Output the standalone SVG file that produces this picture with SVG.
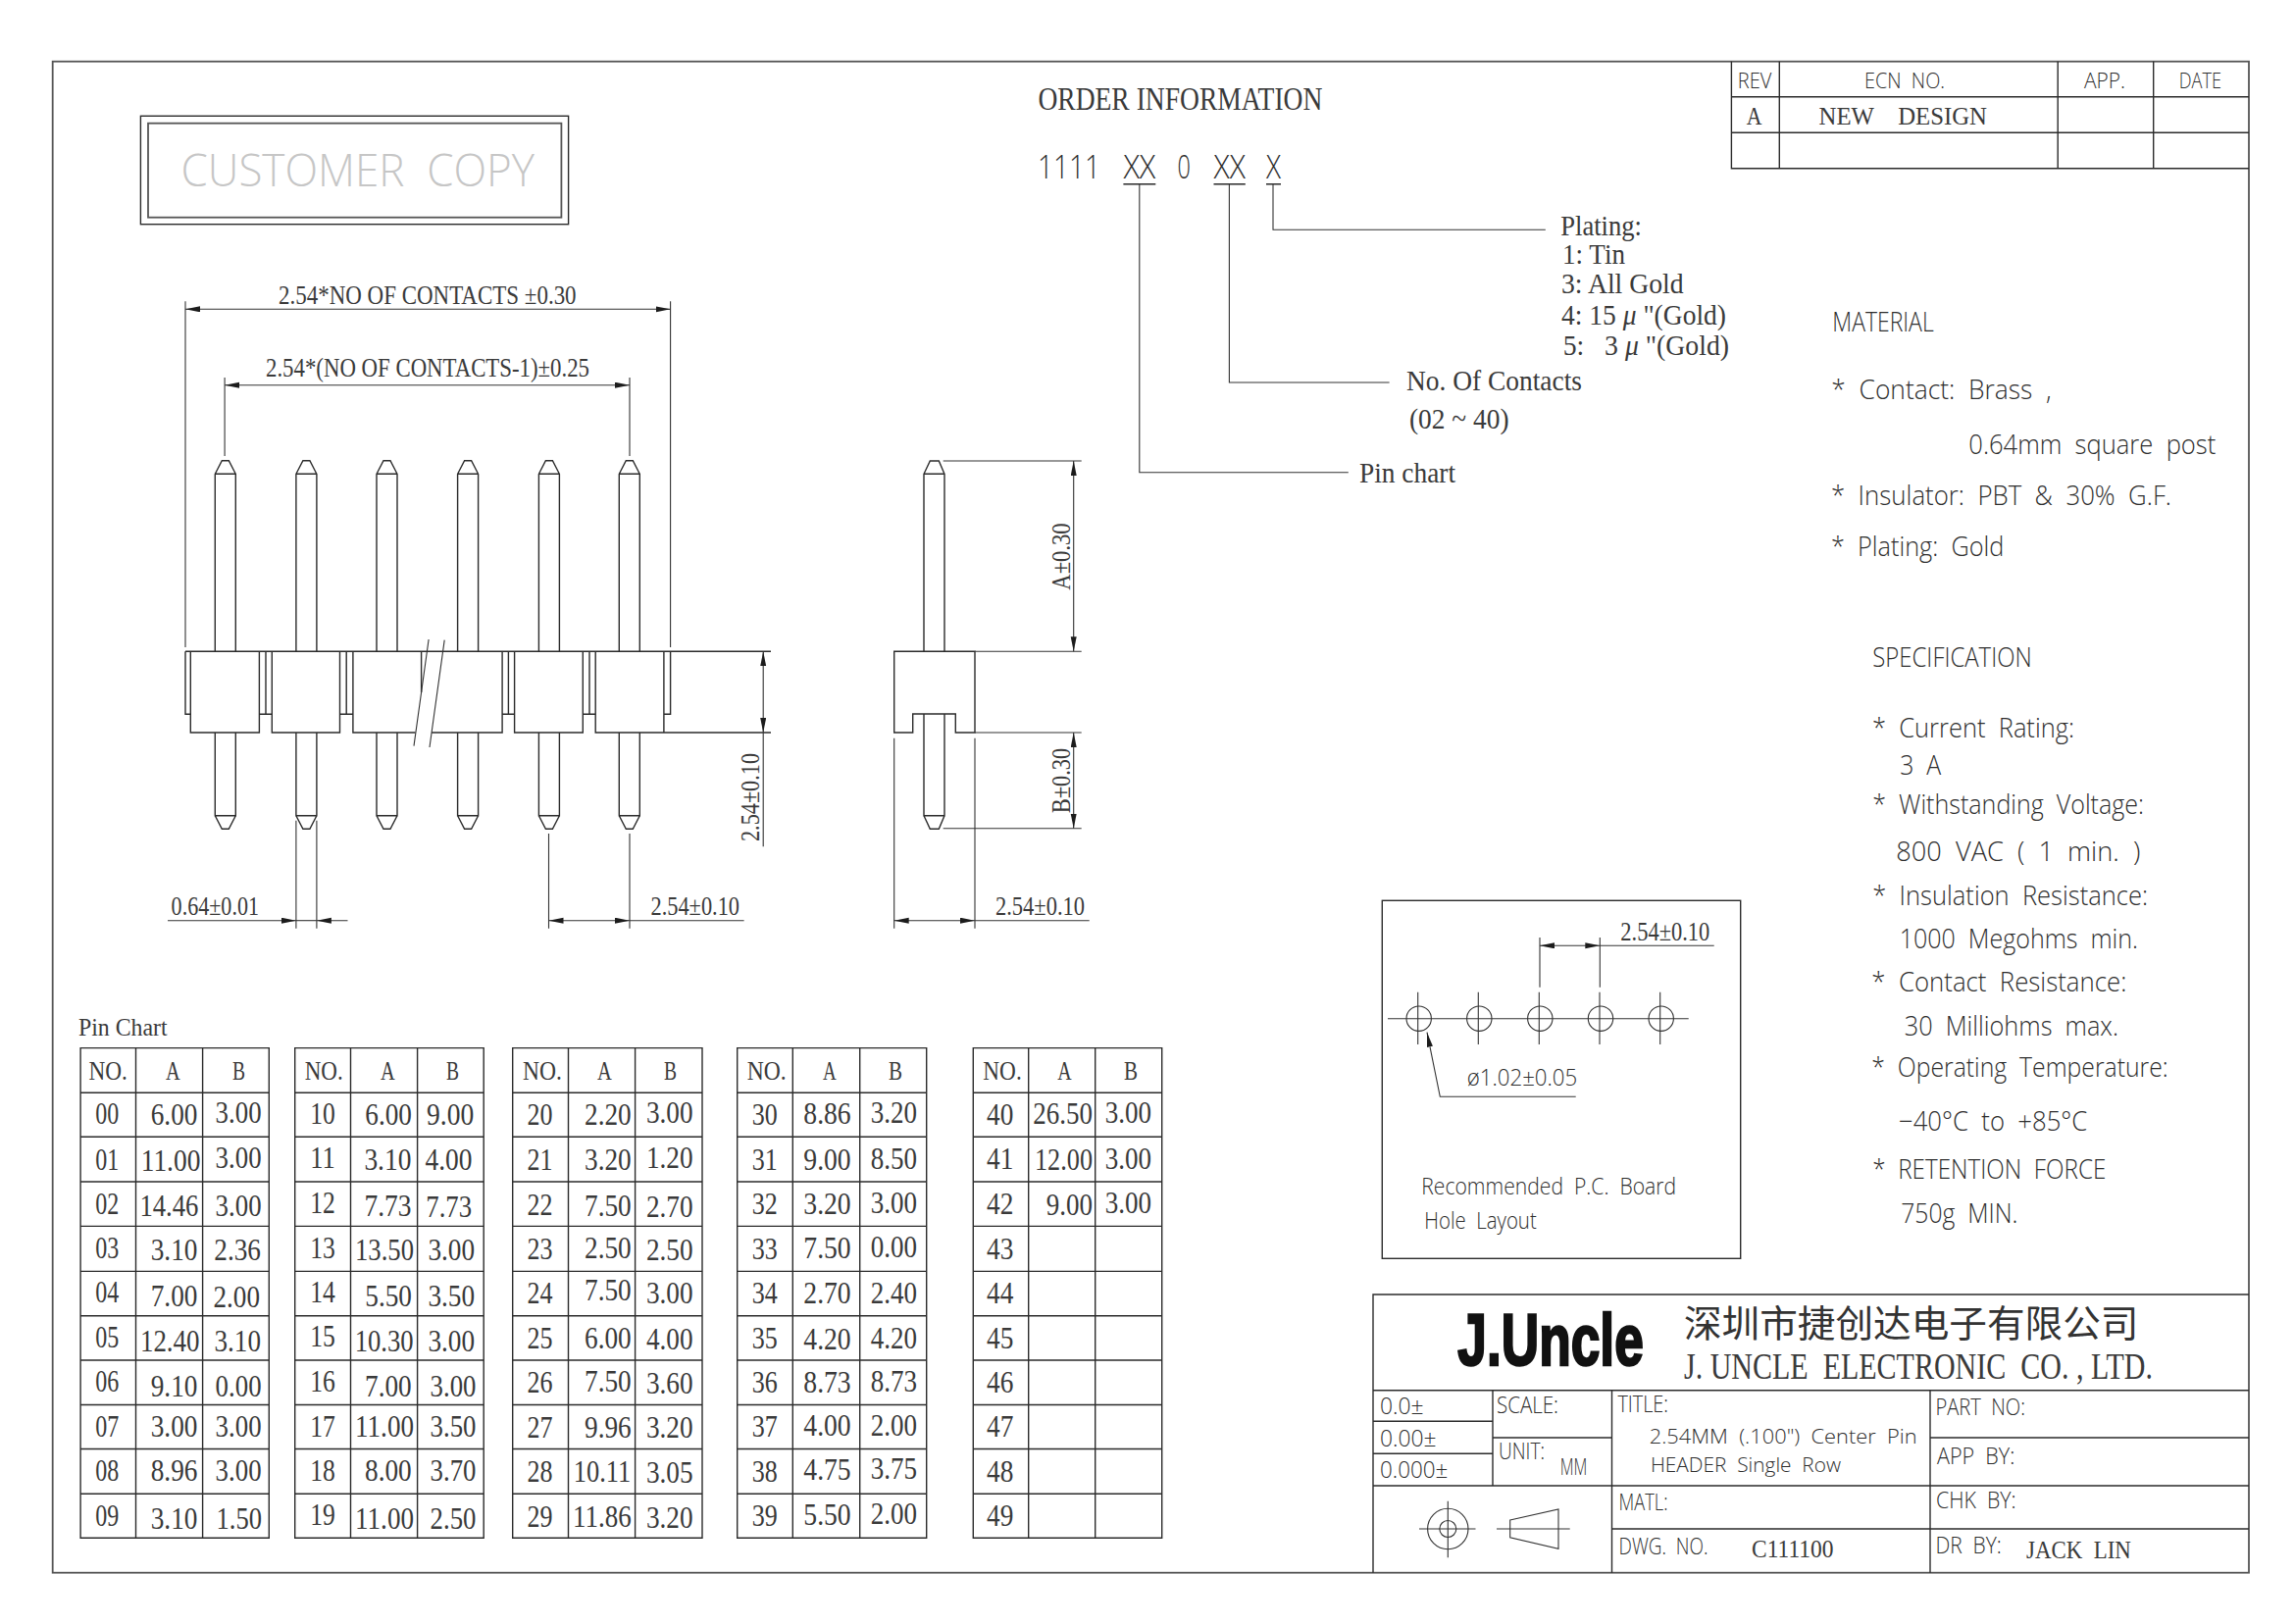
<svg xmlns="http://www.w3.org/2000/svg" width="2339" height="1656" viewBox="0 0 2339 1656">
<style>
text{white-space:pre}
.l{fill:none;stroke:#2b2b2b;stroke-width:1.4}
.g{fill:none;stroke:#555;stroke-width:1.8}
.t{fill:none;stroke:#333;stroke-width:1.1}
.a{marker-end:url(#arr);marker-start:url(#arr)}
.e{marker-end:url(#arr)}
.s{font-family:"Liberation Serif",serif;fill:#3a3a3a}
.c{font-family:"Open Sans","Liberation Sans",sans-serif;font-weight:300;fill:#2e2e2e}
.d{font-size:27px}
.n{font-size:32px}
.h{font-size:27px}
.o{font-size:30px}
.b{font-size:28px}
.i{font-size:23px}
</style>
<defs>
<marker id="arr" markerUnits="userSpaceOnUse" markerWidth="16" markerHeight="7" refX="15" refY="3" orient="auto-start-reverse"><path d="M0,0L15,3L0,6Z" fill="#1c1c1c"/></marker>
<g id="pinU"><path class="l" d="M-10.5,664.3V483.3L-3.5,469.7H3.5L10.5,483.3V664.3M-10.5,483.3H10.5"/></g>
<g id="pinD"><path class="l" d="M-10.5,747V831.7H10.5V747M-10.5,831.7L-3.5,845.3H3.5L10.5,831.7"/></g>
<g id="hole"><circle class="t" cx="0" cy="1038.7" r="12.7"/><path class="t" d="M-1,1011.7V1065"/></g>
</defs>
<rect width="2339" height="1656" fill="#fff"/>
<g id="frame"><rect class="g" x="53.7" y="62.7" width="2239.3" height="1541"/></g>

<g id="customer-copy">
<rect class="l" x="143.4" y="118.3" width="436.2" height="110.4"/>
<rect class="g" x="151" y="125.7" width="421.4" height="96"/>
<text class="c" x="184.5" y="190" font-size="46" textLength="360.5" lengthAdjust="spacingAndGlyphs" style="fill:#c6c6c6">CUSTOMER  COPY</text>
</g>

<g id="front-view">
<use href="#pinU" x="229.8"/><use href="#pinU" x="312.4"/><use href="#pinU" x="394.5"/><use href="#pinU" x="477.1"/><use href="#pinU" x="559.9"/><use href="#pinU" x="641.8"/>
<use href="#pinD" x="229.8"/><use href="#pinD" x="312.4"/><use href="#pinD" x="394.5"/><use href="#pinD" x="477.1"/><use href="#pinD" x="559.9"/><use href="#pinD" x="641.8"/>
<path class="l" d="M189,664.3H786M189,664.3V728.3H194.3M194.3,664.3V747H264.4V664.3M264.4,728.3H277.3M271,664.3V728.3M277.3,664.3V747H346.5V664.3M346.5,728.3H359.9M353.2,664.3V728.3M359.9,664.3V747H423.5M429.6,664.3V706M440,747H512.1V664.3M512.1,728.3H524.6M518.4,664.3V728.3M524.6,664.3V747H594.3V664.3M594.3,728.3H607.2M601,664.3V728.3M607.2,664.3V747H786M676.9,664.3V747M683.6,664.3V728.3H676.9"/>
<path class="t" d="M437.1,652L422,760.7M453.2,652.7L438,762"/>
</g>

<g id="front-dimensions">
<path class="t" d="M189,307.3V660M683.6,307.3V660M229.1,385V465M642,385V465M778.2,747V863.3M301.9,836.7V946.7M322.9,836.7V946.7M559.5,850V946.7M642,850V946.7"/>
<path class="t a" d="M189,315.3H683.6"/>
<path class="t a" d="M229.1,392.7H642"/>
<path class="t a" d="M778.2,664.3V747"/>
<path class="t e" d="M171,938.7H301.9"/>
<path class="t e" d="M354.5,938.7H322.9"/>
<path class="t" d="M301.9,938.7H322.9"/>
<path class="t a" d="M559.5,938.7H642"/>
<path class="t" d="M642,938.7H758.6"/>
<text class="s d" x="284" y="310" textLength="303.6" lengthAdjust="spacingAndGlyphs">2.54*NO OF CONTACTS ±0.30</text>
<text class="s d" x="271" y="384" textLength="330" lengthAdjust="spacingAndGlyphs">2.54*(NO OF CONTACTS-1)±0.25</text>
<text class="s d" x="174.6" y="933.3" textLength="89.4" lengthAdjust="spacingAndGlyphs">0.64±0.01</text>
<text class="s d" x="663.5" y="933.3" textLength="90.5" lengthAdjust="spacingAndGlyphs">2.54±0.10</text>
<text class="s d" transform="translate(774,858) rotate(-90)" textLength="90" lengthAdjust="spacingAndGlyphs">2.54±0.10</text>
</g>

<g id="side-view">
<path class="l" d="M942,664.3V483.3L948.3,470H957.3L963,483.3V664.3M942,483.3H963"/>
<path class="l" d="M942,728V831.7H963V728M942,831.7L948.3,845.3H957.3L963,831.7"/>
<path class="l" d="M911.7,664.3H994V747H974.3V728H930.7V747H911.7Z"/>
<path class="t" d="M961.7,470H1102.7M994,664.3H1102.7M994,747H1102.7M961.7,844.7H1102.7M911.7,752.7V946.7M994,752.7V946.7"/>
<path class="t a" d="M1094.7,470V664.3"/>
<path class="t a" d="M1094.7,747V844.7"/>
<path class="t a" d="M911.7,938.7H994"/>
<path class="t" d="M994,938.7H1110.7"/>
<text class="s d" transform="translate(1090.7,601.7) rotate(-90)" textLength="68.4" lengthAdjust="spacingAndGlyphs">A±0.30</text>
<text class="s d" transform="translate(1090.7,829.3) rotate(-90)" textLength="66.6" lengthAdjust="spacingAndGlyphs">B±0.30</text>
<text class="s d" x="1015" y="933.3" textLength="91" lengthAdjust="spacingAndGlyphs">2.54±0.10</text>
</g>

<g id="order-information">
<text class="s" x="1058.4" y="111.7" font-size="33" textLength="290" lengthAdjust="spacingAndGlyphs">ORDER INFORMATION</text>
<text class="c" x="1058" y="182.3" font-size="33.6" textLength="64" lengthAdjust="spacingAndGlyphs">1111</text>
<text class="c" x="1145.4" y="182.3" font-size="33.6" textLength="32.9" lengthAdjust="spacingAndGlyphs">XX</text>
<text class="c" x="1200.6" y="182.3" font-size="33.6" textLength="13.4" lengthAdjust="spacingAndGlyphs">0</text>
<text class="c" x="1237.5" y="182.3" font-size="33.6" textLength="32.3" lengthAdjust="spacingAndGlyphs">XX</text>
<text class="c" x="1291" y="182.3" font-size="33.6" textLength="15" lengthAdjust="spacingAndGlyphs">X</text>
<text class="s o" x="1591.2" y="240" textLength="82.8" lengthAdjust="spacingAndGlyphs">Plating:</text>
<text class="s o" x="1593" y="269.3" textLength="64" lengthAdjust="spacingAndGlyphs">1: Tin</text>
<text class="s o" x="1592" y="299" textLength="124.6" lengthAdjust="spacingAndGlyphs">3: All Gold</text>
<text class="s o" x="1592" y="330.7" textLength="168" lengthAdjust="spacingAndGlyphs">4: 15 <tspan font-style="italic">μ</tspan> "(Gold)</text>
<text class="s o" x="1593.7" y="361.7" textLength="169.3" lengthAdjust="spacingAndGlyphs">5:   3 <tspan font-style="italic">μ</tspan> "(Gold)</text>
<text class="s o" x="1434" y="398.3" textLength="179" lengthAdjust="spacingAndGlyphs">No. Of Contacts</text>
<text class="s o" x="1437" y="436.7" textLength="101.5" lengthAdjust="spacingAndGlyphs">(02 ~ 40)</text>
<text class="s o" x="1386" y="491.7" textLength="98" lengthAdjust="spacingAndGlyphs">Pin chart</text>
</g>

<g id="connectors">
<path class="l" d="M1145.4,187.7H1178.3M1237.5,187.7H1269.8M1291,187.7H1306"/>
<path class="t" d="M1161.8,187.7V481.7H1374.8"/>
<path class="t" d="M1253.4,187.7V390H1416.6"/>
<path class="t" d="M1298,187.7V234.3H1575.8"/>
</g>

<g id="revision-table">
<path class="l" d="M1765.4,62.7V171.7H2293M1765.4,98.7H2293M1765.4,135.3H2293M1814.3,62.7V171.7M2098.2,62.7V171.7M2195.7,62.7V171.7"/>
<text class="c" x="1771.8" y="90" font-size="22.4" textLength="34.6" lengthAdjust="spacingAndGlyphs">REV</text>
<text class="c" x="1901" y="90" font-size="22.4" textLength="82" lengthAdjust="spacingAndGlyphs">ECN  NO.</text>
<text class="c" x="2125" y="90" font-size="22.4" textLength="42" lengthAdjust="spacingAndGlyphs">APP.</text>
<text class="c" x="2221.8" y="90" font-size="22.4" textLength="43.2" lengthAdjust="spacingAndGlyphs">DATE</text>
<text class="s" x="1780.7" y="126.7" font-size="25" textLength="15.7" lengthAdjust="spacingAndGlyphs">A</text>
<text class="s" x="1854.6" y="126.7" font-size="25" textLength="171.4" lengthAdjust="spacingAndGlyphs">NEW    DESIGN</text>
</g>

<g id="material">
<text class="c b" x="1868.3" y="338.3" textLength="103.4" lengthAdjust="spacingAndGlyphs">MATERIAL</text>
<text class="c b" x="1867.3" y="407.3" textLength="224.4" lengthAdjust="spacingAndGlyphs">*  Contact:  Brass  ,</text>
<text class="c b" x="2007.3" y="463.3" textLength="252" lengthAdjust="spacingAndGlyphs">0.64mm  square  post</text>
<text class="c b" x="1867" y="515" textLength="347" lengthAdjust="spacingAndGlyphs">*  Insulator:  PBT  &amp;  30%  G.F.</text>
<text class="c b" x="1867" y="567.3" textLength="176.3" lengthAdjust="spacingAndGlyphs">*  Plating:  Gold</text>
</g>

<g id="specification">
<text class="c b" x="1909.3" y="680" textLength="162.4" lengthAdjust="spacingAndGlyphs">SPECIFICATION</text>
<text class="c b" x="1909" y="751.7" textLength="206" lengthAdjust="spacingAndGlyphs">*  Current  Rating:</text>
<text class="c b" x="1937.3" y="790" textLength="42" lengthAdjust="spacingAndGlyphs">3  A</text>
<text class="c b" x="1909.3" y="830" textLength="276.7" lengthAdjust="spacingAndGlyphs">*  Withstanding  Voltage:</text>
<text class="c b" x="1933.3" y="878.3" textLength="249" lengthAdjust="spacingAndGlyphs">800  VAC  (  1  min.  )</text>
<text class="c b" x="1909.3" y="922.7" textLength="280.7" lengthAdjust="spacingAndGlyphs">*  Insulation  Resistance:</text>
<text class="c b" x="1936.7" y="967.3" textLength="243.3" lengthAdjust="spacingAndGlyphs">1000  Megohms  min.</text>
<text class="c b" x="1908.3" y="1010.7" textLength="260" lengthAdjust="spacingAndGlyphs">*  Contact  Resistance:</text>
<text class="c b" x="1941.7" y="1055.7" textLength="218.3" lengthAdjust="spacingAndGlyphs">30  Milliohms  max.</text>
<text class="c b" x="1908.3" y="1097.7" textLength="302.4" lengthAdjust="spacingAndGlyphs">*  Operating  Temperature:</text>
<text class="c b" x="1936" y="1152.7" textLength="192.3" lengthAdjust="spacingAndGlyphs">−40°C  to  +85°C</text>
<text class="c b" x="1909.3" y="1201.7" textLength="238" lengthAdjust="spacingAndGlyphs">*  RETENTION  FORCE</text>
<text class="c b" x="1938.3" y="1246.7" textLength="119" lengthAdjust="spacingAndGlyphs">750g  MIN.</text>
</g>

<g id="pcb-layout">
<rect class="l" x="1409.3" y="918.3" width="365.4" height="365"/>
<path class="t" d="M1415,1038.7H1721.7"/>
<use href="#hole" x="1446.7"/><use href="#hole" x="1508.3"/><use href="#hole" x="1570.3"/><use href="#hole" x="1632"/><use href="#hole" x="1693.7"/>
<path class="t" d="M1570,956V1006.7M1631.3,956V1006.7"/>
<path class="t a" d="M1570,964.3H1631.3"/>
<path class="t" d="M1631.3,964.3H1747.7"/>
<path class="t e" d="M1606.7,1118.3H1468.3L1455,1052.7"/>
<text class="s d" x="1652.3" y="959.3" textLength="91" lengthAdjust="spacingAndGlyphs">2.54±0.10</text>
<text class="c i" x="1495.7" y="1106.7" textLength="112.6" lengthAdjust="spacingAndGlyphs">ø1.02±0.05</text>
<text class="c i" x="1449.3" y="1217.7" textLength="259.7" lengthAdjust="spacingAndGlyphs">Recommended  P.C.  Board</text>
<text class="c i" x="1452.3" y="1252.7" textLength="114.4" lengthAdjust="spacingAndGlyphs">Hole  Layout</text>
</g>

<g id="title-block">
<path class="l" d="M1400,1603.7V1320H2293M1400,1417.7H2293M1400,1515H2293M1643.5,1559H2293M1522,1417.7V1515M1643.5,1417.7V1603.7M1968,1417.7V1603.7M1400,1449.3H1522M1400,1482.3H1522M1522,1466H1643.5M1968,1466H2293"/>
<text x="1486.3" y="1392" font-family="Liberation Sans,sans-serif" font-weight="700" font-size="74" textLength="189.5" lengthAdjust="spacingAndGlyphs" fill="#111" stroke="#111" stroke-width="2.5">J.Uncle</text>
<text x="1717" y="1363" font-family="Noto Sans CJK SC,sans-serif" font-size="38" textLength="463.5" lengthAdjust="spacingAndGlyphs" fill="#333">深圳市捷创达电子有限公司</text>
<text class="s" x="1717" y="1406" font-size="37" textLength="478" lengthAdjust="spacingAndGlyphs">J. UNCLE  ELECTRONIC  CO. , LTD.</text>
<text class="c i" x="1407" y="1441.7" textLength="44.6" lengthAdjust="spacingAndGlyphs">0.0±</text>
<text class="c i" x="1407" y="1475" textLength="57.6" lengthAdjust="spacingAndGlyphs">0.00±</text>
<text class="c i" x="1407" y="1506.7" textLength="69.3" lengthAdjust="spacingAndGlyphs">0.000±</text>
<text class="c i" x="1526" y="1440.7" textLength="63" lengthAdjust="spacingAndGlyphs">SCALE:</text>
<text class="c i" x="1528" y="1488.3" textLength="47" lengthAdjust="spacingAndGlyphs">UNIT:</text>
<text class="c i" x="1590.7" y="1504" textLength="27.6" lengthAdjust="spacingAndGlyphs">MM</text>
<text class="c i" x="1649.4" y="1440" textLength="51.6" lengthAdjust="spacingAndGlyphs">TITLE:</text>
<text class="c" x="1681.7" y="1471.7" font-size="21" textLength="272.9" lengthAdjust="spacingAndGlyphs">2.54MM  (.100")  Center  Pin</text>
<text class="c" x="1682.9" y="1500.7" font-size="21" textLength="194.1" lengthAdjust="spacingAndGlyphs">HEADER  Single  Row</text>
<text class="c i" x="1973.4" y="1442.7" textLength="91.6" lengthAdjust="spacingAndGlyphs">PART  NO:</text>
<text class="c i" x="1975" y="1492.7" textLength="79.3" lengthAdjust="spacingAndGlyphs">APP  BY:</text>
<text class="c i" x="1650.6" y="1540" textLength="49.9" lengthAdjust="spacingAndGlyphs">MATL:</text>
<text class="c i" x="1974" y="1538.3" textLength="81.5" lengthAdjust="spacingAndGlyphs">CHK  BY:</text>
<text class="c i" x="1650.6" y="1585" textLength="90.9" lengthAdjust="spacingAndGlyphs">DWG.  NO.</text>
<text class="s" x="1786" y="1588.3" font-size="25" textLength="83.5" lengthAdjust="spacingAndGlyphs">C111100</text>
<text class="c i" x="1973.4" y="1584.3" textLength="67.4" lengthAdjust="spacingAndGlyphs">DR  BY:</text>
<text class="s" x="2066" y="1589.3" font-size="26" textLength="106.9" lengthAdjust="spacingAndGlyphs">JACK  LIN</text>
<circle class="t" cx="1476.3" cy="1559" r="20.7"/><circle class="t" cx="1476.3" cy="1559" r="8.5"/>
<path class="t" d="M1447,1559H1504.5M1476.3,1530.7V1588.3M1526,1559H1600.7M1539.7,1550L1589,1539V1579.3L1539.7,1567.7Z"/>
</g>

<g id="pin-chart">
<text class="s" x="80" y="1055.7" font-size="25" textLength="90.6" lengthAdjust="spacingAndGlyphs">Pin Chart</text>
<g id="table-00-09">
<path class="l" d="M82.1,1068.6H274.3V1568.2H82.1ZM138.5,1068.6V1568.2M206.6,1068.6V1568.2M82.1,1114.3H274.3M82.1,1159.3H274.3M82.1,1205H274.3M82.1,1250.4H274.3M82.1,1296.4H274.3M82.1,1341.8H274.3M82.1,1387H274.3M82.1,1432.5H274.3M82.1,1477.5H274.3M82.1,1523.2H274.3"/>
<text class="s h" x="90.4" y="1101.4" textLength="39.4" lengthAdjust="spacingAndGlyphs">NO.</text><text class="s h" x="168.9" y="1101.4" textLength="14.7" lengthAdjust="spacingAndGlyphs">A</text><text class="s h" x="237" y="1101.4" textLength="13" lengthAdjust="spacingAndGlyphs">B</text>
<text class="s n" x="97.3" y="1146.1" textLength="24" lengthAdjust="spacingAndGlyphs">00</text><text class="s n" x="153.7" y="1146.8" textLength="47.7" lengthAdjust="spacingAndGlyphs">6.00</text><text class="s n" x="219.6" y="1145.4" textLength="47" lengthAdjust="spacingAndGlyphs">3.00</text>
<text class="s n" x="97.3" y="1192.5" textLength="24" lengthAdjust="spacingAndGlyphs">01</text><text class="s n" x="143.7" y="1193.6" textLength="60.7" lengthAdjust="spacingAndGlyphs">11.00</text><text class="s n" x="219.6" y="1191.4" textLength="47" lengthAdjust="spacingAndGlyphs">3.00</text>
<text class="s n" x="97.3" y="1237.9" textLength="24" lengthAdjust="spacingAndGlyphs">02</text><text class="s n" x="142.4" y="1239.6" textLength="60" lengthAdjust="spacingAndGlyphs">14.46</text><text class="s n" x="219.6" y="1239.6" textLength="47" lengthAdjust="spacingAndGlyphs">3.00</text>
<text class="s n" x="97.3" y="1282.5" textLength="24" lengthAdjust="spacingAndGlyphs">03</text><text class="s n" x="153.7" y="1284.6" textLength="47.7" lengthAdjust="spacingAndGlyphs">3.10</text><text class="s n" x="218.3" y="1284.6" textLength="47.7" lengthAdjust="spacingAndGlyphs">2.36</text>
<text class="s n" x="97.3" y="1328.2" textLength="24" lengthAdjust="spacingAndGlyphs">04</text><text class="s n" x="153.7" y="1331.8" textLength="47.7" lengthAdjust="spacingAndGlyphs">7.00</text><text class="s n" x="217.5" y="1332.9" textLength="47.5" lengthAdjust="spacingAndGlyphs">2.00</text>
<text class="s n" x="97.3" y="1373.9" textLength="24" lengthAdjust="spacingAndGlyphs">05</text><text class="s n" x="142.9" y="1377.5" textLength="60.7" lengthAdjust="spacingAndGlyphs">12.40</text><text class="s n" x="218.5" y="1377.5" textLength="47.5" lengthAdjust="spacingAndGlyphs">3.10</text>
<text class="s n" x="97.3" y="1419.3" textLength="24" lengthAdjust="spacingAndGlyphs">06</text><text class="s n" x="153.7" y="1423.9" textLength="47.7" lengthAdjust="spacingAndGlyphs">9.10</text><text class="s n" x="219.6" y="1423.9" textLength="47" lengthAdjust="spacingAndGlyphs">0.00</text>
<text class="s n" x="97.3" y="1464.6" textLength="24" lengthAdjust="spacingAndGlyphs">07</text><text class="s n" x="153.7" y="1464.6" textLength="47.7" lengthAdjust="spacingAndGlyphs">3.00</text><text class="s n" x="219.6" y="1464.6" textLength="47" lengthAdjust="spacingAndGlyphs">3.00</text>
<text class="s n" x="97.3" y="1509.6" textLength="24" lengthAdjust="spacingAndGlyphs">08</text><text class="s n" x="153.7" y="1510.4" textLength="47.7" lengthAdjust="spacingAndGlyphs">8.96</text><text class="s n" x="219.6" y="1510.4" textLength="47" lengthAdjust="spacingAndGlyphs">3.00</text>
<text class="s n" x="97.3" y="1555.7" textLength="24" lengthAdjust="spacingAndGlyphs">09</text><text class="s n" x="153.7" y="1559.3" textLength="47.7" lengthAdjust="spacingAndGlyphs">3.10</text><text class="s n" x="220.5" y="1559.3" textLength="46.5" lengthAdjust="spacingAndGlyphs">1.50</text>
</g>
<g id="table-10-19">
<path class="l" d="M300.7,1068.6H493.2V1568.2H300.7ZM357.5,1068.6V1568.2M425.6,1068.6V1568.2M300.7,1114.3H493.2M300.7,1159.3H493.2M300.7,1205H493.2M300.7,1250.4H493.2M300.7,1296.4H493.2M300.7,1341.8H493.2M300.7,1387H493.2M300.7,1432.5H493.2M300.7,1477.5H493.2M300.7,1523.2H493.2"/>
<text class="s h" x="310.7" y="1100.7" textLength="39" lengthAdjust="spacingAndGlyphs">NO.</text><text class="s h" x="387.9" y="1100.7" textLength="14.7" lengthAdjust="spacingAndGlyphs">A</text><text class="s h" x="455" y="1100.7" textLength="13" lengthAdjust="spacingAndGlyphs">B</text>
<text class="s n" x="316.3" y="1146.1" textLength="25.6" lengthAdjust="spacingAndGlyphs">10</text><text class="s n" x="372.3" y="1146.8" textLength="47.7" lengthAdjust="spacingAndGlyphs">6.00</text><text class="s n" x="435.1" y="1146.8" textLength="48.2" lengthAdjust="spacingAndGlyphs">9.00</text>
<text class="s n" x="316.3" y="1191.4" textLength="25.6" lengthAdjust="spacingAndGlyphs">11</text><text class="s n" x="371.4" y="1192.9" textLength="48" lengthAdjust="spacingAndGlyphs">3.10</text><text class="s n" x="433.5" y="1192.9" textLength="48" lengthAdjust="spacingAndGlyphs">4.00</text>
<text class="s n" x="316.3" y="1237.1" textLength="25.6" lengthAdjust="spacingAndGlyphs">12</text><text class="s n" x="371.5" y="1239.6" textLength="48" lengthAdjust="spacingAndGlyphs">7.73</text><text class="s n" x="434.3" y="1241.4" textLength="46.8" lengthAdjust="spacingAndGlyphs">7.73</text>
<text class="s n" x="316.3" y="1282.5" textLength="25.6" lengthAdjust="spacingAndGlyphs">13</text><text class="s n" x="362" y="1284.6" textLength="60" lengthAdjust="spacingAndGlyphs">13.50</text><text class="s n" x="436.4" y="1284.6" textLength="47.7" lengthAdjust="spacingAndGlyphs">3.00</text>
<text class="s n" x="316.3" y="1328.2" textLength="25.6" lengthAdjust="spacingAndGlyphs">14</text><text class="s n" x="372.3" y="1331.8" textLength="47.7" lengthAdjust="spacingAndGlyphs">5.50</text><text class="s n" x="436.4" y="1331.8" textLength="47.7" lengthAdjust="spacingAndGlyphs">3.50</text>
<text class="s n" x="316.3" y="1373.2" textLength="25.6" lengthAdjust="spacingAndGlyphs">15</text><text class="s n" x="361.7" y="1377.5" textLength="60" lengthAdjust="spacingAndGlyphs">10.30</text><text class="s n" x="436.4" y="1377.5" textLength="47.7" lengthAdjust="spacingAndGlyphs">3.00</text>
<text class="s n" x="316.3" y="1418.6" textLength="25.6" lengthAdjust="spacingAndGlyphs">16</text><text class="s n" x="372" y="1423.9" textLength="47.7" lengthAdjust="spacingAndGlyphs">7.00</text><text class="s n" x="438.6" y="1423.9" textLength="46.8" lengthAdjust="spacingAndGlyphs">3.00</text>
<text class="s n" x="316.3" y="1464.6" textLength="25.6" lengthAdjust="spacingAndGlyphs">17</text><text class="s n" x="362" y="1464.6" textLength="60" lengthAdjust="spacingAndGlyphs">11.00</text><text class="s n" x="438.6" y="1464.6" textLength="46.8" lengthAdjust="spacingAndGlyphs">3.50</text>
<text class="s n" x="316.3" y="1509.6" textLength="25.6" lengthAdjust="spacingAndGlyphs">18</text><text class="s n" x="372" y="1510.4" textLength="47.7" lengthAdjust="spacingAndGlyphs">8.00</text><text class="s n" x="438.6" y="1510.4" textLength="46.8" lengthAdjust="spacingAndGlyphs">3.70</text>
<text class="s n" x="316.3" y="1555" textLength="25.6" lengthAdjust="spacingAndGlyphs">19</text><text class="s n" x="362" y="1558.6" textLength="60" lengthAdjust="spacingAndGlyphs">11.00</text><text class="s n" x="438.6" y="1559.3" textLength="46.8" lengthAdjust="spacingAndGlyphs">2.50</text>
</g>
<g id="table-20-29">
<path class="l" d="M522.7,1068.6H716V1568.2H522.7ZM579.5,1068.6V1568.2M647.6,1068.6V1568.2M522.7,1114.3H716M522.7,1159.3H716M522.7,1205H716M522.7,1250.4H716M522.7,1296.4H716M522.7,1341.8H716M522.7,1387H716M522.7,1432.5H716M522.7,1477.5H716M522.7,1523.2H716"/>
<text class="s h" x="533.1" y="1100.7" textLength="39.9" lengthAdjust="spacingAndGlyphs">NO.</text><text class="s h" x="609" y="1100.7" textLength="14.8" lengthAdjust="spacingAndGlyphs">A</text><text class="s h" x="677" y="1100.7" textLength="13" lengthAdjust="spacingAndGlyphs">B</text>
<text class="s n" x="537.5" y="1147.1" textLength="26" lengthAdjust="spacingAndGlyphs">20</text><text class="s n" x="596" y="1146.8" textLength="47.7" lengthAdjust="spacingAndGlyphs">2.20</text><text class="s n" x="658.9" y="1145.4" textLength="47.7" lengthAdjust="spacingAndGlyphs">3.00</text>
<text class="s n" x="537.5" y="1193.2" textLength="26" lengthAdjust="spacingAndGlyphs">21</text><text class="s n" x="596" y="1193.2" textLength="47.7" lengthAdjust="spacingAndGlyphs">3.20</text><text class="s n" x="658.9" y="1191.4" textLength="47.7" lengthAdjust="spacingAndGlyphs">1.20</text>
<text class="s n" x="537.5" y="1238.9" textLength="26" lengthAdjust="spacingAndGlyphs">22</text><text class="s n" x="596" y="1239.6" textLength="47.7" lengthAdjust="spacingAndGlyphs">7.50</text><text class="s n" x="658.9" y="1241.4" textLength="47.7" lengthAdjust="spacingAndGlyphs">2.70</text>
<text class="s n" x="537.5" y="1284.3" textLength="26" lengthAdjust="spacingAndGlyphs">23</text><text class="s n" x="596" y="1282.9" textLength="47.7" lengthAdjust="spacingAndGlyphs">2.50</text><text class="s n" x="658.9" y="1284.6" textLength="47.7" lengthAdjust="spacingAndGlyphs">2.50</text>
<text class="s n" x="537.5" y="1329.3" textLength="26" lengthAdjust="spacingAndGlyphs">24</text><text class="s n" x="596" y="1326.4" textLength="47.7" lengthAdjust="spacingAndGlyphs">7.50</text><text class="s n" x="658.9" y="1329.3" textLength="47.7" lengthAdjust="spacingAndGlyphs">3.00</text>
<text class="s n" x="537.5" y="1375.4" textLength="26" lengthAdjust="spacingAndGlyphs">25</text><text class="s n" x="596" y="1375.4" textLength="47.7" lengthAdjust="spacingAndGlyphs">6.00</text><text class="s n" x="658.9" y="1376.4" textLength="47.7" lengthAdjust="spacingAndGlyphs">4.00</text>
<text class="s n" x="537.5" y="1420.4" textLength="26" lengthAdjust="spacingAndGlyphs">26</text><text class="s n" x="596" y="1419.3" textLength="47.7" lengthAdjust="spacingAndGlyphs">7.50</text><text class="s n" x="658.9" y="1421.1" textLength="47.7" lengthAdjust="spacingAndGlyphs">3.60</text>
<text class="s n" x="537.5" y="1465.7" textLength="26" lengthAdjust="spacingAndGlyphs">27</text><text class="s n" x="596" y="1465.7" textLength="47.7" lengthAdjust="spacingAndGlyphs">9.96</text><text class="s n" x="658.9" y="1466.4" textLength="47.7" lengthAdjust="spacingAndGlyphs">3.20</text>
<text class="s n" x="537.5" y="1511.4" textLength="26" lengthAdjust="spacingAndGlyphs">28</text><text class="s n" x="584.8" y="1511.4" textLength="58.5" lengthAdjust="spacingAndGlyphs">10.11</text><text class="s n" x="658.9" y="1512.1" textLength="47.7" lengthAdjust="spacingAndGlyphs">3.05</text>
<text class="s n" x="537.5" y="1556.8" textLength="26" lengthAdjust="spacingAndGlyphs">29</text><text class="s n" x="583.9" y="1556.8" textLength="59.8" lengthAdjust="spacingAndGlyphs">11.86</text><text class="s n" x="658.9" y="1557.9" textLength="47.7" lengthAdjust="spacingAndGlyphs">3.20</text>
</g>
<g id="table-30-39">
<path class="l" d="M751.7,1068.6H944.7V1568.2H751.7ZM808.3,1068.6V1568.2M876.7,1068.6V1568.2M751.7,1114.3H944.7M751.7,1159.3H944.7M751.7,1205H944.7M751.7,1250.4H944.7M751.7,1296.4H944.7M751.7,1341.8H944.7M751.7,1387H944.7M751.7,1432.5H944.7M751.7,1477.5H944.7M751.7,1523.2H944.7"/>
<text class="s h" x="761.7" y="1101.2" textLength="40" lengthAdjust="spacingAndGlyphs">NO.</text><text class="s h" x="839" y="1101.2" textLength="13.7" lengthAdjust="spacingAndGlyphs">A</text><text class="s h" x="906" y="1101.2" textLength="14" lengthAdjust="spacingAndGlyphs">B</text>
<text class="s n" x="766.7" y="1146.8" textLength="26" lengthAdjust="spacingAndGlyphs">30</text><text class="s n" x="819.3" y="1146.1" textLength="48.4" lengthAdjust="spacingAndGlyphs">8.86</text><text class="s n" x="887.7" y="1145.1" textLength="47.3" lengthAdjust="spacingAndGlyphs">3.20</text>
<text class="s n" x="766.7" y="1192.8" textLength="26" lengthAdjust="spacingAndGlyphs">31</text><text class="s n" x="819.3" y="1192.8" textLength="48.4" lengthAdjust="spacingAndGlyphs">9.00</text><text class="s n" x="887.7" y="1191.8" textLength="47.3" lengthAdjust="spacingAndGlyphs">8.50</text>
<text class="s n" x="766.7" y="1238" textLength="26" lengthAdjust="spacingAndGlyphs">32</text><text class="s n" x="819.3" y="1238" textLength="48.4" lengthAdjust="spacingAndGlyphs">3.20</text><text class="s n" x="887.7" y="1237.4" textLength="47.3" lengthAdjust="spacingAndGlyphs">3.00</text>
<text class="s n" x="766.7" y="1283.6" textLength="26" lengthAdjust="spacingAndGlyphs">33</text><text class="s n" x="819.3" y="1283" textLength="48.4" lengthAdjust="spacingAndGlyphs">7.50</text><text class="s n" x="887.7" y="1282" textLength="47.3" lengthAdjust="spacingAndGlyphs">0.00</text>
<text class="s n" x="766.7" y="1329.3" textLength="26" lengthAdjust="spacingAndGlyphs">34</text><text class="s n" x="819.3" y="1329.3" textLength="48.4" lengthAdjust="spacingAndGlyphs">2.70</text><text class="s n" x="887.7" y="1328.6" textLength="47.3" lengthAdjust="spacingAndGlyphs">2.40</text>
<text class="s n" x="766.7" y="1374.9" textLength="26" lengthAdjust="spacingAndGlyphs">35</text><text class="s n" x="819.3" y="1375.9" textLength="48.4" lengthAdjust="spacingAndGlyphs">4.20</text><text class="s n" x="887.7" y="1374.9" textLength="47.3" lengthAdjust="spacingAndGlyphs">4.20</text>
<text class="s n" x="766.7" y="1419.8" textLength="26" lengthAdjust="spacingAndGlyphs">36</text><text class="s n" x="819.3" y="1419.8" textLength="48.4" lengthAdjust="spacingAndGlyphs">8.73</text><text class="s n" x="887.7" y="1418.8" textLength="47.3" lengthAdjust="spacingAndGlyphs">8.73</text>
<text class="s n" x="766.7" y="1465.4" textLength="26" lengthAdjust="spacingAndGlyphs">37</text><text class="s n" x="819.3" y="1464.4" textLength="48.4" lengthAdjust="spacingAndGlyphs">4.00</text><text class="s n" x="887.7" y="1464.4" textLength="47.3" lengthAdjust="spacingAndGlyphs">2.00</text>
<text class="s n" x="766.7" y="1511" textLength="26" lengthAdjust="spacingAndGlyphs">38</text><text class="s n" x="819.3" y="1509.3" textLength="48.4" lengthAdjust="spacingAndGlyphs">4.75</text><text class="s n" x="887.7" y="1507.6" textLength="47.3" lengthAdjust="spacingAndGlyphs">3.75</text>
<text class="s n" x="766.7" y="1556" textLength="26" lengthAdjust="spacingAndGlyphs">39</text><text class="s n" x="819.3" y="1555" textLength="48.4" lengthAdjust="spacingAndGlyphs">5.50</text><text class="s n" x="887.7" y="1554" textLength="47.3" lengthAdjust="spacingAndGlyphs">2.00</text>
</g>
<g id="table-40-49">
<path class="l" d="M992.3,1068.6H1184.7V1568.2H992.3ZM1048.7,1068.6V1568.2M1116.7,1068.6V1568.2M992.3,1114.3H1184.7M992.3,1159.3H1184.7M992.3,1205H1184.7M992.3,1250.4H1184.7M992.3,1296.4H1184.7M992.3,1341.8H1184.7M992.3,1387H1184.7M992.3,1432.5H1184.7M992.3,1477.5H1184.7M992.3,1523.2H1184.7"/>
<text class="s h" x="1002.3" y="1101.2" textLength="39.4" lengthAdjust="spacingAndGlyphs">NO.</text><text class="s h" x="1078.3" y="1101.2" textLength="14.4" lengthAdjust="spacingAndGlyphs">A</text><text class="s h" x="1146" y="1101.2" textLength="14" lengthAdjust="spacingAndGlyphs">B</text>
<text class="s n" x="1006" y="1146.8" textLength="27.3" lengthAdjust="spacingAndGlyphs">40</text><text class="s n" x="1053.3" y="1146.1" textLength="60.7" lengthAdjust="spacingAndGlyphs">26.50</text><text class="s n" x="1126.7" y="1145.1" textLength="47.3" lengthAdjust="spacingAndGlyphs">3.00</text>
<text class="s n" x="1006" y="1192.4" textLength="27.3" lengthAdjust="spacingAndGlyphs">41</text><text class="s n" x="1055" y="1192.8" textLength="59" lengthAdjust="spacingAndGlyphs">12.00</text><text class="s n" x="1126.7" y="1191.8" textLength="47.3" lengthAdjust="spacingAndGlyphs">3.00</text>
<text class="s n" x="1006" y="1238" textLength="27.3" lengthAdjust="spacingAndGlyphs">42</text><text class="s n" x="1066.7" y="1239" textLength="47.3" lengthAdjust="spacingAndGlyphs">9.00</text><text class="s n" x="1126.7" y="1237.4" textLength="47.3" lengthAdjust="spacingAndGlyphs">3.00</text>
<text class="s n" x="1006" y="1283.6" textLength="27.3" lengthAdjust="spacingAndGlyphs">43</text>
<text class="s n" x="1006" y="1329.3" textLength="27.3" lengthAdjust="spacingAndGlyphs">44</text>
<text class="s n" x="1006" y="1374.9" textLength="27.3" lengthAdjust="spacingAndGlyphs">45</text>
<text class="s n" x="1006" y="1419.8" textLength="27.3" lengthAdjust="spacingAndGlyphs">46</text>
<text class="s n" x="1006" y="1465.4" textLength="27.3" lengthAdjust="spacingAndGlyphs">47</text>
<text class="s n" x="1006" y="1511" textLength="27.3" lengthAdjust="spacingAndGlyphs">48</text>
<text class="s n" x="1006" y="1556" textLength="27.3" lengthAdjust="spacingAndGlyphs">49</text>
</g>
</g>
</svg>
